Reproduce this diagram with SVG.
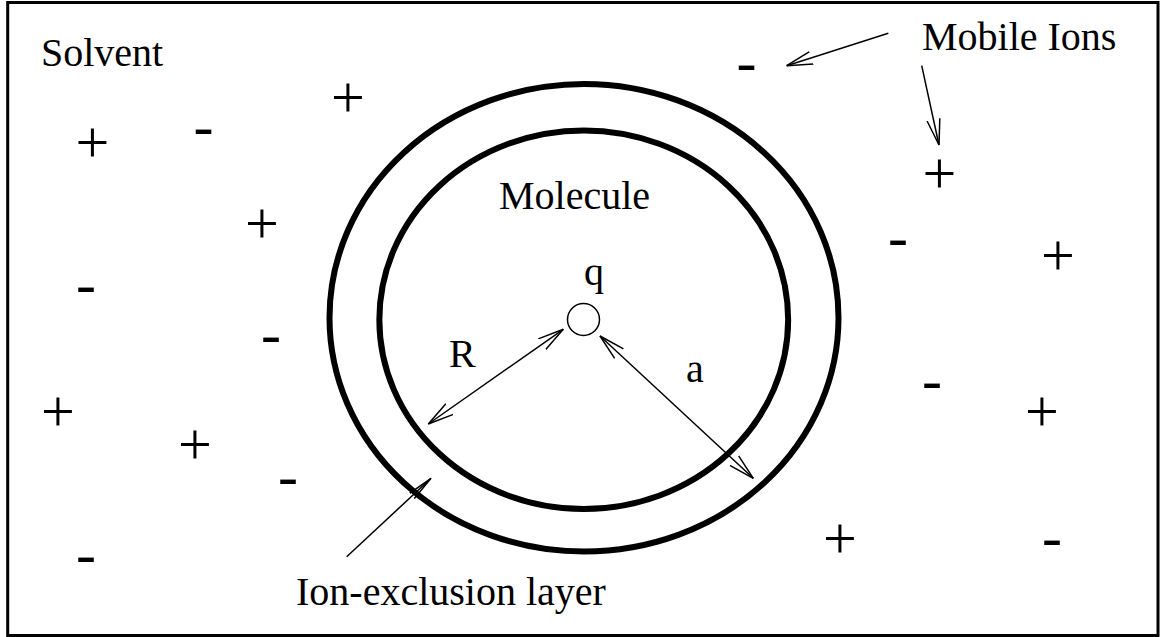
<svg xmlns="http://www.w3.org/2000/svg" width="1160" height="637" viewBox="0 0 1160 637">
<style>
.lbl{font-family:"Liberation Serif","Times New Roman",serif;font-size:40px;fill:#000}
.ion{font-family:"Liberation Serif","Times New Roman",serif;font-size:60px;fill:#000;text-anchor:middle}
.ln{stroke:#000;stroke-width:1.5;fill:none}
.ring{stroke:#000;stroke-width:6;fill:none}
</style>
<defs>
<marker id="ah" markerUnits="userSpaceOnUse" markerWidth="30" markerHeight="16" refX="26" refY="7" orient="auto-start-reverse" viewBox="0 0 30 14">
<path d="M0,0.5 L26,7 L0,13.5" fill="none" stroke="#000" stroke-width="1.5"/>
</marker>
<marker id="ahn" markerUnits="userSpaceOnUse" markerWidth="30" markerHeight="10" refX="26" refY="4" orient="auto" viewBox="0 0 30 8">
<path d="M0,0.5 L26,4 L0,7.5" fill="none" stroke="#000" stroke-width="1.5"/>
</marker>
</defs>
<rect x="7.7" y="2.5" width="1150.3" height="633" fill="#fff" stroke="#000" stroke-width="3"/>
<g id="solvent-region">
<text class="lbl" x="41" y="66">Solvent</text>
</g>
<g id="ion-exclusion-layer">
<ellipse class="ring" cx="584" cy="317.75" rx="254.5" ry="233.75"/>
<text class="lbl" x="296" y="605">Ion-exclusion layer</text>
</g>
<g id="molecule">
<ellipse class="ring" cx="583.75" cy="319.75" rx="204.4" ry="189.25"/>
<text class="lbl" x="499" y="209">Molecule</text>
</g>
<g id="charge-q">
<circle cx="583.5" cy="319.5" r="16" fill="none" stroke="#000" stroke-width="1.5"/>
<text class="lbl" x="584" y="285">q</text>
</g>
<g id="mobile-ions-label">
<text class="lbl" x="922" y="50">Mobile Ions</text>
</g>
<g id="ions">
<text class="ion" x="92.5" y="161.7">+</text>
<text class="ion" x="348" y="117">+</text>
<text class="ion" x="262" y="243">+</text>
<text class="ion" x="939.5" y="193">+</text>
<text class="ion" x="1058" y="275">+</text>
<text class="ion" x="58" y="431">+</text>
<text class="ion" x="195" y="464">+</text>
<text class="ion" x="1042" y="431">+</text>
<text class="ion" x="840" y="558">+</text>
<text class="ion" x="203.5" y="145.5">-</text>
<text class="ion" x="746.5" y="81.5">-</text>
<text class="ion" x="86" y="303.5">-</text>
<text class="ion" x="271" y="353.5">-</text>
<text class="ion" x="898" y="256.5">-</text>
<text class="ion" x="932" y="399.5">-</text>
<text class="ion" x="288" y="495.5">-</text>
<text class="ion" x="86" y="573.5">-</text>
<text class="ion" x="1052" y="556.5">-</text>
</g>
<g id="dim-labels">
<text class="lbl" x="449" y="367">R</text>
<text class="lbl" x="686" y="382">a</text>
</g>
<g id="connectors">
<line class="ln" x1="428.3" y1="424" x2="563.3" y2="329.3" marker-start="url(#ah)" marker-end="url(#ah)"/>
<line class="ln" x1="600" y1="336" x2="753.3" y2="478.3" marker-start="url(#ah)" marker-end="url(#ah)"/>
<line class="ln" x1="888.3" y1="33.3" x2="786.7" y2="65.7" marker-end="url(#ah)"/>
<line class="ln" x1="921.7" y1="65.7" x2="939" y2="145" marker-end="url(#ah)"/>
<line class="ln" x1="346.7" y1="556.7" x2="431" y2="478.3" marker-end="url(#ahn)"/>
</g>
</svg>
